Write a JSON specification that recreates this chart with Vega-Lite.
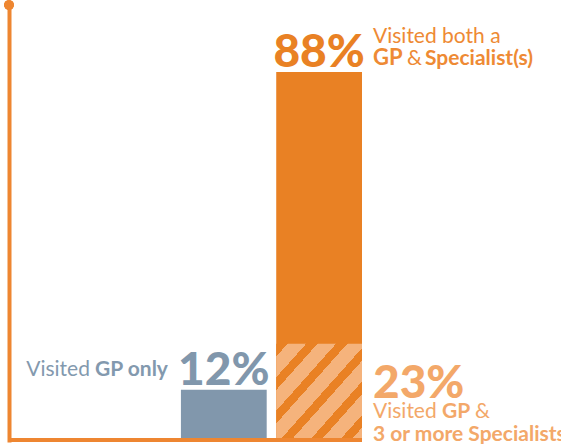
{
  "$schema": "https://vega.github.io/schema/vega-lite/v6.json",
  "width": 353,
  "height": 435,
  "autosize": {"type": "none"},
  "padding": {"left": 9, "top": 5, "right": 199, "bottom": 4},
  "background": "white",
  "config": {"view": {"stroke": null}, "font": "Lato", "text": {"font": "Lato"}},
  "data": {"values": [
    {"group": "GP only", "segment": "total", "pct": 0.12},
    {"group": "GP & Specialist(s)", "segment": "total", "pct": 0.88},
    {"group": "GP & Specialist(s)", "segment": "3 or more", "pct": 0.23}
  ]},
  "resolve": {"scale": {"x": "independent"}},
  "layer": [
    {
      "layer": [
        {
          "transform": [{"filter": "datum.segment === 'total'"}],
          "mark": {"type": "bar"},
          "encoding": {
            "x": {"field": "group", "type": "nominal", "axis": null,
                  "scale": {"domain": ["GP only", "GP & Specialist(s)"], "paddingInner": 0.1, "paddingOuter": 0.902, "align": 1}},
            "y": {"field": "pct", "type": "quantitative",
                  "scale": {"domain": [0, 1.04], "nice": false, "zero": true},
                  "axis": {"domain": true, "domainColor": "#EE8631", "domainWidth": 4, "domainCap": "square", "ticks": false, "labels": false, "grid": false, "title": null}},
            "color": {"field": "group", "type": "nominal", "legend": null,
                      "scale": {"domain": ["GP only", "GP & Specialist(s)"], "range": ["#8197AC", "#E98124"]}}
          }
        },
        {
          "transform": [{"filter": "datum.segment === '3 or more'"}],
          "mark": {"type": "bar",
            "fill": {"gradient": "linear", "x1": 0, "y1": 0, "x2": 1, "y2": 1, "stops": [
              {"offset": 0, "color": "#E98124"},
              {"offset": 0.066, "color": "#E98124"}, {"offset": 0.066, "color": "#F5B37C"},
              {"offset": 0.174, "color": "#F5B37C"}, {"offset": 0.174, "color": "#E98124"},
              {"offset": 0.24, "color": "#E98124"}, {"offset": 0.24, "color": "#F5B37C"},
              {"offset": 0.348, "color": "#F5B37C"}, {"offset": 0.348, "color": "#E98124"},
              {"offset": 0.414, "color": "#E98124"}, {"offset": 0.414, "color": "#F5B37C"},
              {"offset": 0.522, "color": "#F5B37C"}, {"offset": 0.522, "color": "#E98124"},
              {"offset": 0.588, "color": "#E98124"}, {"offset": 0.588, "color": "#F5B37C"},
              {"offset": 0.696, "color": "#F5B37C"}, {"offset": 0.696, "color": "#E98124"},
              {"offset": 0.762, "color": "#E98124"}, {"offset": 0.762, "color": "#F5B37C"},
              {"offset": 0.87, "color": "#F5B37C"}, {"offset": 0.87, "color": "#E98124"},
              {"offset": 0.936, "color": "#E98124"}, {"offset": 0.936, "color": "#F5B37C"},
              {"offset": 1, "color": "#F5B37C"}
            ]}},
          "encoding": {
            "x": {"field": "group", "type": "nominal", "axis": null},
            "y": {"field": "pct", "type": "quantitative"}
          }
        },
        {
          "mark": {"type": "rule", "color": "#EE8631", "strokeWidth": 4},
          "encoding": {"y": {"datum": 0}}
        },
        {
          "transform": [{"filter": "datum.segment === 'total'"}],
          "mark": {"type": "text", "align": "center", "baseline": "alphabetic", "fontSize": 46, "fontWeight": 900, "dy": -5},
          "encoding": {
            "x": {"field": "group", "type": "nominal", "axis": null},
            "y": {"field": "pct", "type": "quantitative"},
            "text": {"field": "pct", "type": "quantitative", "format": ".0%"},
            "color": {"field": "group", "type": "nominal", "legend": null,
                      "scale": {"domain": ["GP only", "GP & Specialist(s)"], "range": ["#8399AE", "#EE8A34"]}}
          }
        },
        {
          "transform": [{"filter": "datum.segment === 'total' && datum.group === 'GP only'"}],
          "mark": {"type": "text", "text": "GP only", "align": "right", "baseline": "alphabetic", "fontSize": 21, "fontWeight": "bold", "color": "#8399AE", "dx": -13, "dy": -14},
          "encoding": {
            "x": {"field": "group", "type": "nominal", "axis": null, "bandPosition": 0},
            "y": {"field": "pct", "type": "quantitative"}
          }
        },
        {
          "transform": [{"filter": "datum.segment === 'total' && datum.group === 'GP only'"}],
          "mark": {"type": "text", "text": "Visited", "align": "right", "baseline": "alphabetic", "fontSize": 21, "fontWeight": "normal", "color": "#8399AE", "dx": -91, "dy": -14},
          "encoding": {
            "x": {"field": "group", "type": "nominal", "axis": null, "bandPosition": 0},
            "y": {"field": "pct", "type": "quantitative"}
          }
        },
        {
          "transform": [{"filter": "datum.segment === 'total' && datum.group !== 'GP only'"}],
          "mark": {"type": "text", "text": "Visited both a", "align": "left", "baseline": "alphabetic", "fontSize": 21, "fontWeight": "normal", "color": "#EE8A34", "dx": 11, "dy": -29},
          "encoding": {
            "x": {"field": "group", "type": "nominal", "axis": null, "bandPosition": 1},
            "y": {"field": "pct", "type": "quantitative"}
          }
        },
        {
          "transform": [{"filter": "datum.segment === 'total' && datum.group !== 'GP only'"}],
          "mark": {"type": "text", "text": "GP", "align": "left", "baseline": "alphabetic", "fontSize": 22, "fontWeight": "bold", "color": "#EE8A34", "dx": 11, "dy": -7},
          "encoding": {
            "x": {"field": "group", "type": "nominal", "axis": null, "bandPosition": 1},
            "y": {"field": "pct", "type": "quantitative"}
          }
        },
        {
          "transform": [{"filter": "datum.segment === 'total' && datum.group !== 'GP only'"}],
          "mark": {"type": "text", "text": "&", "align": "left", "baseline": "alphabetic", "fontSize": 21, "fontWeight": "normal", "color": "#EE8A34", "dx": 45, "dy": -7},
          "encoding": {
            "x": {"field": "group", "type": "nominal", "axis": null, "bandPosition": 1},
            "y": {"field": "pct", "type": "quantitative"}
          }
        },
        {
          "transform": [{"filter": "datum.segment === 'total' && datum.group !== 'GP only'"}],
          "mark": {"type": "text", "text": "Specialist(s)", "align": "left", "baseline": "alphabetic", "fontSize": 21, "fontWeight": "bold", "color": "#EE8A34", "dx": 63, "dy": -7},
          "encoding": {
            "x": {"field": "group", "type": "nominal", "axis": null, "bandPosition": 1},
            "y": {"field": "pct", "type": "quantitative"}
          }
        },
        {
          "transform": [{"filter": "datum.segment === '3 or more'"}],
          "mark": {"type": "text", "align": "left", "baseline": "alphabetic", "fontSize": 46, "fontWeight": 900, "color": "#F3A869", "dx": 11, "dy": 54},
          "encoding": {
            "x": {"field": "group", "type": "nominal", "axis": null, "bandPosition": 1},
            "y": {"field": "pct", "type": "quantitative"},
            "text": {"field": "pct", "type": "quantitative", "format": ".0%"}
          }
        },
        {
          "transform": [{"filter": "datum.segment === '3 or more'"}],
          "mark": {"type": "text", "text": "Visited", "align": "left", "baseline": "alphabetic", "fontSize": 21, "fontWeight": "normal", "color": "#F3A869", "dx": 11, "dy": 74},
          "encoding": {
            "x": {"field": "group", "type": "nominal", "axis": null, "bandPosition": 1},
            "y": {"field": "pct", "type": "quantitative"}
          }
        },
        {
          "transform": [{"filter": "datum.segment === '3 or more'"}],
          "mark": {"type": "text", "text": "GP", "align": "left", "baseline": "alphabetic", "fontSize": 21, "fontWeight": "bold", "color": "#F3A869", "dx": 80, "dy": 74},
          "encoding": {
            "x": {"field": "group", "type": "nominal", "axis": null, "bandPosition": 1},
            "y": {"field": "pct", "type": "quantitative"}
          }
        },
        {
          "transform": [{"filter": "datum.segment === '3 or more'"}],
          "mark": {"type": "text", "text": "&", "align": "left", "baseline": "alphabetic", "fontSize": 21, "fontWeight": "normal", "color": "#F3A869", "dx": 113, "dy": 74},
          "encoding": {
            "x": {"field": "group", "type": "nominal", "axis": null, "bandPosition": 1},
            "y": {"field": "pct", "type": "quantitative"}
          }
        },
        {
          "transform": [{"filter": "datum.segment === '3 or more'"}],
          "mark": {"type": "text", "text": "3 or more Specialists", "align": "left", "baseline": "alphabetic", "fontSize": 21, "fontWeight": "bold", "color": "#F3A869", "dx": 11, "dy": 97},
          "encoding": {
            "x": {"field": "group", "type": "nominal", "axis": null, "bandPosition": 1},
            "y": {"field": "pct", "type": "quantitative"}
          }
        }
      ]
    },
    {
      "mark": {"type": "point", "filled": true, "opacity": 1, "size": 95, "color": "#EE8631"},
      "encoding": {
        "x": {"datum": 0, "type": "quantitative", "scale": {"domain": [0, 1]}, "axis": null},
        "y": {"datum": 1.04, "type": "quantitative"}
      }
    }
  ]
}
